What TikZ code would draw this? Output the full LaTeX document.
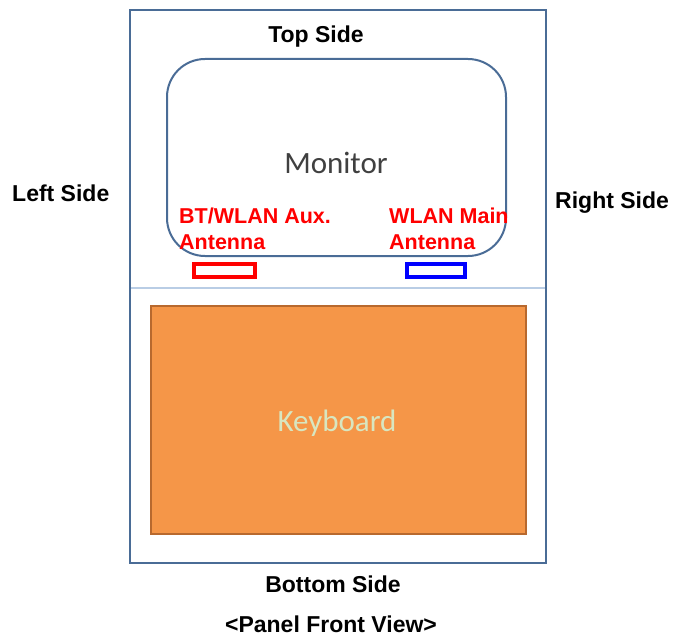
\documentclass[tikz,border=0pt]{standalone}
\usepackage{fontspec}
\setmainfont{Liberation Sans}
\newfontfamily\calfont{Carlito}
\definecolor{frameblue}{HTML}{4A6C96}
\definecolor{divblue}{HTML}{B9CDE5}
\definecolor{kbfill}{HTML}{F59648}
\definecolor{kbdraw}{HTML}{B8692E}
\definecolor{kbtext}{HTML}{D8E6C0}
\definecolor{antred}{HTML}{FF0000}
\definecolor{antblue}{HTML}{0000FF}
\tikzset{
  sidelabel/.style={inner sep=0pt, font=\bfseries\fontsize{23}{27}\selectfont},
  antlabel/.style={inner sep=0pt, align=left, text=antred, font=\bfseries\fontsize{21.5}{26}\selectfont},
  partlabel/.style={inner sep=0pt, font=\calfont\fontsize{31}{36}\selectfont},
  antbox/.style={line width=3.8pt},
}
\begin{document}
\begin{tikzpicture}[x=1pt,y=-1pt]
\useasboundingbox (0,0) rectangle (676,639);
% outer panel
\draw[frameblue, line width=2.5pt] (130,10) rectangle (546,563);
% divider
\draw[divblue, line width=1.5pt] (131,288) -- (545,288);
% monitor
\draw[frameblue, line width=2pt, rounded corners=38pt] (167,59) rectangle (506,256);
\node[partlabel, text=black!75, anchor=base] (mon) at (336,173) {Monitor};
% keyboard
\draw[kbdraw, fill=kbfill, line width=1.5pt] (151,306) rectangle (526,534);
\node[partlabel, text=kbtext, anchor=base] (kb) at (337,431.5) {Keyboard};
% antennas
\draw[antred, antbox] (194.3,264.3) rectangle (254.7,277.3);
\draw[antblue, antbox] (407,264.3) rectangle (465,277.3);
\node[antlabel, anchor=north west] (aux) at (179,208) {BT/WLAN Aux.\\Antenna};
\node[antlabel, anchor=north west] (main) at (389,208) {WLAN Main\\Antenna};
% side labels
\node[sidelabel, anchor=base] (top) at (316,42.5) {Top Side};
\node[sidelabel, anchor=base west] (left) at (12,201.5) {Left Side};
\node[sidelabel, anchor=base west] (right) at (555,208) {Right Side};
\node[sidelabel, anchor=base] (bottom) at (333,592) {Bottom Side};
\node[sidelabel, anchor=base] (caption) at (331,632.5) {<Panel Front View>};
\end{tikzpicture}
\end{document}
